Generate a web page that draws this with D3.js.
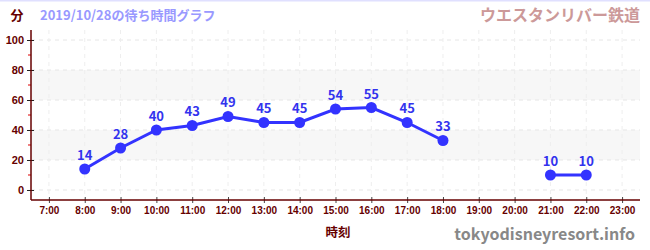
<!DOCTYPE html>
<html>
<head>
<meta charset="utf-8">
<script src="https://cdn.jsdelivr.net/npm/d3@7"></script>
<style>
  body { margin: 0; background: #fff; }
  svg { font-family: "Noto Sans CJK JP", "Noto Sans", sans-serif; }
</style>
</head>
<body>
<svg id="chart" width="650" height="250"></svg>
<script>
// data
const hours = [8, 9, 10, 11, 12, 13, 14, 15, 16, 17, 18, 19, 20, 21, 22];
const waits = [14, 28, 40, 43, 49, 45, 45, 54, 55, 45, 33, null, null, 10, 10];
const xTicks = [7, 8, 9, 10, 11, 12, 13, 14, 15, 16, 17, 18, 19, 20, 21, 22, 23];
const yTicks = [0, 20, 40, 60, 80, 100];
const bands = [[20, 40], [60, 80]];

const svg = d3.select("#chart");
const mLeft = 31, mRight = 640, mTop = 30, mBottom = 200;

const x = d3.scaleLinear().domain([6.5, 23.5]).range([mLeft, mRight]);
const y = d3.scaleLinear().domain([-6.667, 106.667]).range([mBottom, mTop]);

// top border line
svg.append("line")
    .attr("x1", 0).attr("x2", 650).attr("y1", 0.5).attr("y2", 0.5)
    .attr("stroke", "#e0e0ff").attr("stroke-width", 2);

// bands
svg.selectAll("rect.band")
    .data(bands)
    .enter()
    .append("rect")
    .attr("x", mLeft)
    .attr("width", mRight - mLeft)
    .attr("y", d => y(d[1]))
    .attr("height", d => y(d[0]) - y(d[1]))
    .attr("fill", "#f7f7f7");

// grid
svg.selectAll("line.hgrid")
    .data(yTicks)
    .enter()
    .append("line")
    .attr("x1", mLeft).attr("x2", mRight)
    .attr("y1", d => y(d)).attr("y2", d => y(d))
    .attr("stroke", "#e6e6e6").attr("stroke-dasharray", "4,4");

svg.selectAll("line.vgrid")
    .data(xTicks)
    .enter()
    .append("line")
    .attr("x1", d => x(d)).attr("x2", d => x(d))
    .attr("y1", mTop).attr("y2", mBottom)
    .attr("stroke", "#eeeeee").attr("stroke-dasharray", "4,4");

// axes
const yAxis = d3.axisLeft(y).tickValues(yTicks).tickSize(4).tickPadding(3);
const gy = svg.append("g").attr("transform", `translate(${mLeft},0)`).call(yAxis);
gy.select(".domain").remove();
gy.selectAll(".tick line").attr("x2", 3).attr("x1", -4).attr("stroke", "#222");
gy.selectAll(".tick text")
    .attr("fill", "#600").attr("font-size", 11).attr("font-weight", "bold");

// minor red ticks
svg.selectAll("line.minor")
    .data([10, 30, 50, 70, 90])
    .enter()
    .append("line")
    .attr("x1", mLeft - 3).attr("x2", mLeft)
    .attr("y1", d => y(d)).attr("y2", d => y(d))
    .attr("stroke", "#d00");

const xAxis = d3.axisBottom(x).tickValues(xTicks).tickFormat(d => d + ":00").tickSize(3).tickPadding(4);
const gx = svg.append("g").attr("transform", `translate(0,${mBottom})`).call(xAxis);
gx.select(".domain").remove();
gx.selectAll(".tick line").attr("y1", -3).attr("y2", 3).attr("stroke", "#444");
gx.selectAll(".tick text")
    .attr("fill", "#600").attr("font-size", 10).attr("font-weight", "bold");

svg.append("line")
    .attr("x1", mLeft).attr("x2", mRight).attr("y1", mBottom).attr("y2", mBottom)
    .attr("stroke", "#600").attr("stroke-width", 1.5);
svg.append("line")
    .attr("x1", mLeft).attr("x2", mLeft).attr("y1", mTop).attr("y2", mBottom)
    .attr("stroke", "#600").attr("stroke-width", 1.5);

// line + points
const pts = hours.map((h, i) => ({ h: h, v: waits[i] }));
const line = d3.line()
    .defined(d => d.v !== null)
    .x(d => x(d.h))
    .y(d => y(d.v));

svg.append("path")
    .datum(pts)
    .attr("d", line)
    .attr("fill", "none")
    .attr("stroke", "#3333ff")
    .attr("stroke-width", 3);

const valid = pts.filter(d => d.v !== null);
svg.selectAll("circle")
    .data(valid)
    .enter()
    .append("circle")
    .attr("cx", d => x(d.h))
    .attr("cy", d => y(d.v))
    .attr("r", 5.5)
    .attr("fill", "#3333ff");

svg.selectAll("text.val")
    .data(valid)
    .enter()
    .append("text")
    .attr("x", d => x(d.h))
    .attr("y", d => y(d.v) - 9)
    .attr("text-anchor", "middle")
    .attr("font-size", 13)
    .attr("font-weight", "bold")
    .attr("fill", "#3333ee")
    .text(d => d.v);

// texts
svg.append("text").attr("x", 17).attr("y", 20).attr("text-anchor", "middle")
    .attr("font-size", 13).attr("font-weight", "bold").attr("fill", "#600").text("分");
svg.append("text").attr("x", 40).attr("y", 20)
    .attr("font-size", 13).attr("font-weight", "bold").attr("fill", "#9999ff").text("2019/10/28の待ち時間グラフ");
svg.append("text").attr("x", 640).attr("y", 21).attr("text-anchor", "end")
    .attr("font-size", 16).attr("font-weight", "bold").attr("fill", "#cc9999").text("ウエスタンリバー鉄道");
svg.append("text").attr("x", 338).attr("y", 237).attr("text-anchor", "middle")
    .attr("font-size", 12.5).attr("font-weight", "bold").attr("fill", "#600").text("時刻");
svg.append("text").attr("x", 635).attr("y", 240).attr("text-anchor", "end")
    .attr("font-size", 16).attr("font-weight", "bold").attr("fill", "#888").text("tokyodisneyresort.info");
</script>
</body>
</html>
